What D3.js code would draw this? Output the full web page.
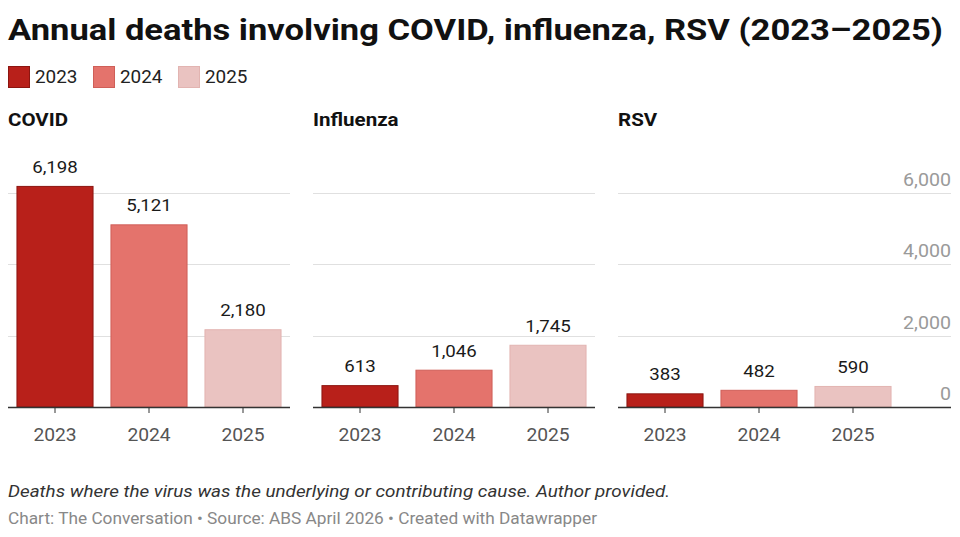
<!DOCTYPE html>
<html>
<head>
<meta charset="utf-8">
<script src="https://cdn.jsdelivr.net/npm/d3@7"></script>
<style>
  body { margin: 0; background: #fff; font-family: Roboto, "Noto Sans", sans-serif; }
</style>
</head>
<body>
<div id="figure"></div>
<script>
// data
var years = ["2023", "2024", "2025"];
var panels = ["COVID", "Influenza", "RSV"];
var covid = [6198, 5121, 2180];
var influenza = [613, 1046, 1745];
var rsv = [383, 482, 590];
var yTicks = [0, 2000, 4000, 6000];
var colors = ["#b8201a", "#e4736c", "#eac3c1"];
var strokes = ["#8c1510", "#cf5f58", "#e2b4b1"];

var series = [covid, influenza, rsv];

var width = 960, height = 537;

// text in the reference is a bit wider than plain Roboto, so stretch it
function stretch(sel, k) {
  sel.each(function() {
    var w = this.getComputedTextLength();
    d3.select(this).attr("textLength", w * k).attr("lengthAdjust", "spacingAndGlyphs");
  });
}
function fitTo(sel, w) {
  sel.attr("textLength", w).attr("lengthAdjust", "spacingAndGlyphs");
}

const svg = d3.select("#figure")
  .append("svg")
  .attr("width", width)
  .attr("height", height);

// title
svg.append("text")
  .attr("x", 8).attr("y", 40)
  .attr("font-size", 30).attr("font-weight", 700)
  .attr("fill", "#111")
  .text("Annual deaths involving COVID, influenza, RSV (2023\u20132025)")
  .call(fitTo, 935);

// legend
var legendX = [8, 93, 178];
years.forEach(function(yr, i) {
  svg.append("rect")
    .attr("x", legendX[i] + 0.5).attr("y", 66.5)
    .attr("width", 21).attr("height", 21)
    .attr("fill", colors[i])
    .attr("stroke", strokes[i]);
  svg.append("text")
    .attr("x", legendX[i] + 27).attr("y", 83)
    .attr("font-size", 17.5).attr("fill", "#222")
    .text(yr)
    .call(stretch, 1.08);
});

// shared y scale
var base = 407;
const y = d3.scaleLinear().domain([0, 6000]).range([base, base - 6000 * 0.03567]);

const fmt = d3.format(",");

var panelX = [8, 313, 618];
var plotW = 282;

panels.forEach(function(name, p) {
  var g = svg.append("g").attr("transform", `translate(${panelX[p]},0)`);

  g.append("text")
    .attr("x", 0).attr("y", 126)
    .attr("font-size", 18).attr("font-weight", 700)
    .attr("fill", "#111")
    .text(name)
    .call(stretch, 1.14);

  var gridW = p == 2 ? 333 : plotW;

  // gridlines
  g.selectAll("line.grid")
    .data(yTicks.filter(d => d > 0))
    .join("line")
    .attr("class", "grid")
    .attr("x1", 0).attr("x2", gridW)
    .attr("y1", d => Math.round(y(d)) + 0.5)
    .attr("y2", d => Math.round(y(d)) + 0.5)
    .attr("stroke", "#e0e0e0");

  // y labels on last panel
  if (p == 2) {
    g.selectAll("text.ylab")
      .data(yTicks)
      .join("text")
      .attr("class", "ylab")
      .attr("x", gridW)
      .attr("y", d => y(d) - 7)
      .attr("text-anchor", "end")
      .attr("font-size", 17.5)
      .attr("fill", "#9a9a9a")
      .text(d => fmt(d))
      .call(stretch, 1.12);
  }

  const x = d3.scaleBand()
    .domain(years)
    .range([0, plotW])
    .paddingInner(0.18)
    .paddingOuter(0.09);

  var data = series[p].map((v, i) => ({year: years[i], value: v, i: i}));

  g.selectAll("rect.bar")
    .data(data)
    .join("rect")
    .attr("class", "bar")
    .attr("x", d => x(d.year) + 0.5)
    .attr("y", d => y(d.value) + 0.5)
    .attr("width", x.bandwidth() - 1)
    .attr("height", d => base - y(d.value) - 0.5)
    .attr("fill", d => colors[d.i])
    .attr("stroke", d => strokes[d.i])
    .attr("stroke-width", 1);

  g.selectAll("text.val")
    .data(data)
    .join("text")
    .attr("class", "val")
    .attr("x", d => x(d.year) + x.bandwidth() / 2)
    .attr("y", d => y(d.value) - 13)
    .attr("text-anchor", "middle")
    .attr("font-size", 17)
    .attr("fill", "#1a1a1a")
    .text(d => fmt(d.value))
    .call(stretch, 1.1);

  // x axis
  var xAxis = g.append("g")
    .attr("transform", `translate(0,${base})`)
    .call(d3.axisBottom(x).tickSize(6).tickPadding(16).tickSizeOuter(0));
  xAxis.select(".domain").remove();
  xAxis.selectAll(".tick line").attr("stroke", "#333");
  xAxis.selectAll(".tick text")
    .attr("font-size", 17.5)
    .attr("font-family", "Roboto, sans-serif")
    .attr("fill", "#555")
    .call(stretch, 1.1);
  g.append("line")
    .attr("x1", 0).attr("x2", gridW)
    .attr("y1", base + 0.5).attr("y2", base + 0.5)
    .attr("stroke", "#333").attr("stroke-width", 1.5);
});

// notes
svg.append("text")
  .attr("x", 8).attr("y", 497)
  .attr("font-size", 17).attr("font-style", "italic")
  .attr("fill", "#333")
  .text("Deaths where the virus was the underlying or contributing cause. Author provided.")
  .call(fitTo, 662);

svg.append("text")
  .attr("x", 8).attr("y", 524)
  .attr("font-size", 16)
  .attr("fill", "#888")
  .text("Chart: The Conversation \u2022 Source: ABS April 2026 \u2022 Created with Datawrapper")
  .call(fitTo, 589);
</script>
</body>
</html>
